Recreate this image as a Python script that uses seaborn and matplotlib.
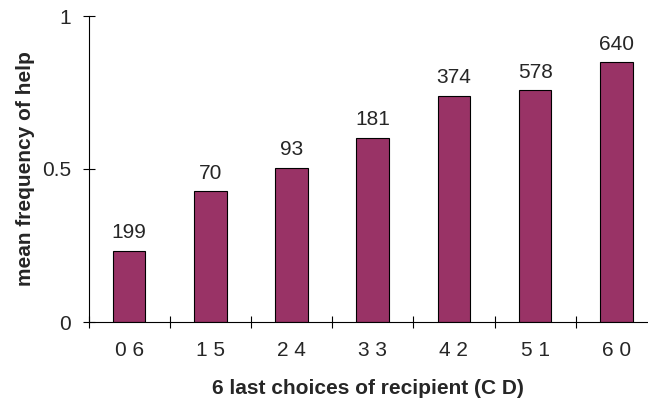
from matplotlib import pyplot as plt
from matplotlib.ticker import FixedLocator
import pandas as pd
import seaborn as sns

# choices of recipient (C D), mean frequency of help, number of cases
choices = ['0 6', '1 5', '2 4', '3 3', '4 2', '5 1', '6 0']
help_freq = [0.233, 0.428, 0.504, 0.602, 0.739, 0.758, 0.849]
n_cases = ['199', '70', '93', '181', '374', '578', '640']

if __name__ == "__main__":
    sns.set_style('white')
    plt.rcParams['font.family'] = ['Liberation Sans', 'DejaVu Sans']

    data = pd.DataFrame({'choices': choices, 'help': help_freq})

    fig = plt.figure(figsize=(6.48, 4.03), dpi=100)
    ax = fig.add_axes([88.5 / 648, 81 / 403, 1 - 88.5 / 648, 306 / 403])

    sns.barplot(data=data, x='choices', y='help', color='#993366',
                saturation=1, width=0.4, edgecolor='black', linewidth=0.8, ax=ax)

    for i, (v, n) in enumerate(zip(help_freq, n_cases)):
        ax.annotate(n, (i, v), xytext=(0, 9), textcoords='offset points',
                    ha='center', va='baseline', fontsize=15)

    ax.set_xlim(-0.5, -0.5 + 559.5 / 81.2)
    ax.set_ylim(0, 1)
    ax.set_yticks([0, 0.5, 1])
    ax.set_yticklabels(['0', '0.5', '1'])
    ax.xaxis.set_minor_locator(FixedLocator([i - 0.5 for i in range(8)]))
    ax.tick_params(axis='x', which='major', length=0, pad=14, labelsize=15)
    ax.tick_params(axis='x', which='minor', direction='inout', length=9,
                   width=0.8, color='black', bottom=True)
    ax.tick_params(axis='y', direction='inout', length=9, width=0.8,
                   color='black', left=True, pad=8, labelsize=15)

    sns.despine(ax=ax, top=True, right=True)
    for s in ['left', 'bottom']:
        ax.spines[s].set_color('black')
        ax.spines[s].set_linewidth(0.8)

    ax.set_xlabel('6 last choices of recipient (C D)', fontsize=15,
                  fontweight='bold', labelpad=13)
    ax.set_ylabel('mean frequency of help', fontsize=15,
                  fontweight='bold', labelpad=5)

    plt.savefig('out.png', dpi=100)
